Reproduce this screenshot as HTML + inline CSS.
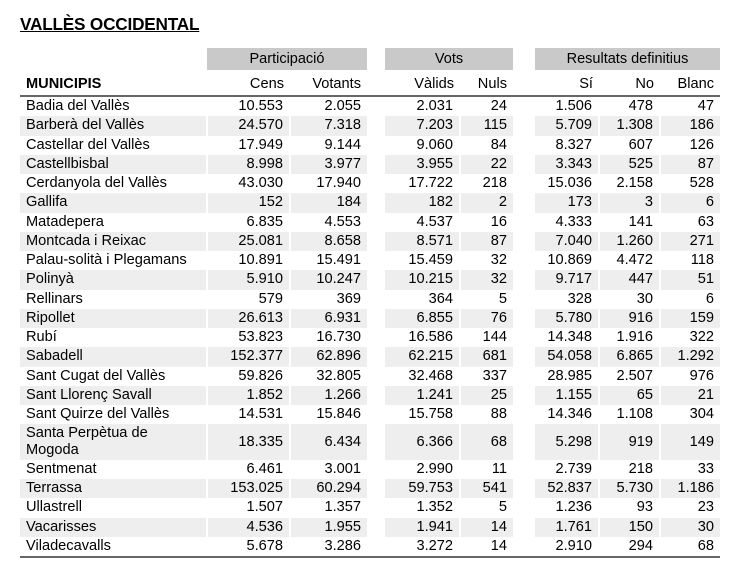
<!DOCTYPE html>
<html><head><meta charset="utf-8"><style>
body{margin:0;width:755px;height:583px;background:#fff;font-family:"Liberation Sans",Arial,sans-serif;color:#000;position:relative;overflow:hidden}
.t{position:absolute;left:20px;top:14px;font-weight:bold;font-size:17.2px;text-decoration:underline;letter-spacing:-0.2px}
.g{position:absolute;top:48px;height:22px;background:#c9c9c9;font-size:14.5px;text-align:center;line-height:23px}
table{position:absolute;left:20px;top:72px;border-collapse:collapse;table-layout:fixed;font-size:14.6px}
td{padding:0 6px 0 0;text-align:right;height:19.25px;line-height:17px;white-space:nowrap;overflow:visible}
td.n{text-align:left;padding-left:6px;white-space:nowrap}
td.b{border-right:2px solid #fff}
tr.s td{background:#eeeeee}
tr.s td.x{background:#fff}
tr.h td{height:21px;vertical-align:bottom;padding-bottom:2px;border-bottom:2px solid #666}
tr.l td{border-bottom:2px solid #666}
tr.d td{height:35.5px}
</style></head><body>
<div class="t">VALLÈS OCCIDENTAL</div>
<div class="g" style="left:207px;width:160px">Participació</div>
<div class="g" style="left:385px;width:128px">Vots</div>
<div class="g" style="left:535px;width:185px">Resultats definitius</div>
<table>
<colgroup><col style="width:187px"><col style="width:83px"><col style="width:77px"><col style="width:18px"><col style="width:75px"><col style="width:53px"><col style="width:22px"><col style="width:64px"><col style="width:61px"><col style="width:60px"></colgroup>
<tr class="h"><td class="n" style="font-weight:bold">MUNICIPIS</td><td>Cens</td><td>Votants</td><td class="x"></td><td>Vàlids</td><td>Nuls</td><td class="x"></td><td>Sí</td><td>No</td><td>Blanc</td></tr>
<tr><td class="n b">Badia del Vallès</td><td class="b">10.553</td><td>2.055</td><td class="x"></td><td class="b">2.031</td><td>24</td><td class="x"></td><td class="b">1.506</td><td class="b">478</td><td>47</td></tr>
<tr class="s"><td class="n b">Barberà del Vallès</td><td class="b">24.570</td><td>7.318</td><td class="x"></td><td class="b">7.203</td><td>115</td><td class="x"></td><td class="b">5.709</td><td class="b">1.308</td><td>186</td></tr>
<tr><td class="n b">Castellar del Vallès</td><td class="b">17.949</td><td>9.144</td><td class="x"></td><td class="b">9.060</td><td>84</td><td class="x"></td><td class="b">8.327</td><td class="b">607</td><td>126</td></tr>
<tr class="s"><td class="n b">Castellbisbal</td><td class="b">8.998</td><td>3.977</td><td class="x"></td><td class="b">3.955</td><td>22</td><td class="x"></td><td class="b">3.343</td><td class="b">525</td><td>87</td></tr>
<tr><td class="n b">Cerdanyola del Vallès</td><td class="b">43.030</td><td>17.940</td><td class="x"></td><td class="b">17.722</td><td>218</td><td class="x"></td><td class="b">15.036</td><td class="b">2.158</td><td>528</td></tr>
<tr class="s"><td class="n b">Gallifa</td><td class="b">152</td><td>184</td><td class="x"></td><td class="b">182</td><td>2</td><td class="x"></td><td class="b">173</td><td class="b">3</td><td>6</td></tr>
<tr><td class="n b">Matadepera</td><td class="b">6.835</td><td>4.553</td><td class="x"></td><td class="b">4.537</td><td>16</td><td class="x"></td><td class="b">4.333</td><td class="b">141</td><td>63</td></tr>
<tr class="s"><td class="n b">Montcada i Reixac</td><td class="b">25.081</td><td>8.658</td><td class="x"></td><td class="b">8.571</td><td>87</td><td class="x"></td><td class="b">7.040</td><td class="b">1.260</td><td>271</td></tr>
<tr><td class="n b">Palau-solità i Plegamans</td><td class="b">10.891</td><td>15.491</td><td class="x"></td><td class="b">15.459</td><td>32</td><td class="x"></td><td class="b">10.869</td><td class="b">4.472</td><td>118</td></tr>
<tr class="s"><td class="n b">Polinyà</td><td class="b">5.910</td><td>10.247</td><td class="x"></td><td class="b">10.215</td><td>32</td><td class="x"></td><td class="b">9.717</td><td class="b">447</td><td>51</td></tr>
<tr><td class="n b">Rellinars</td><td class="b">579</td><td>369</td><td class="x"></td><td class="b">364</td><td>5</td><td class="x"></td><td class="b">328</td><td class="b">30</td><td>6</td></tr>
<tr class="s"><td class="n b">Ripollet</td><td class="b">26.613</td><td>6.931</td><td class="x"></td><td class="b">6.855</td><td>76</td><td class="x"></td><td class="b">5.780</td><td class="b">916</td><td>159</td></tr>
<tr><td class="n b">Rubí</td><td class="b">53.823</td><td>16.730</td><td class="x"></td><td class="b">16.586</td><td>144</td><td class="x"></td><td class="b">14.348</td><td class="b">1.916</td><td>322</td></tr>
<tr class="s"><td class="n b">Sabadell</td><td class="b">152.377</td><td>62.896</td><td class="x"></td><td class="b">62.215</td><td>681</td><td class="x"></td><td class="b">54.058</td><td class="b">6.865</td><td>1.292</td></tr>
<tr><td class="n b">Sant Cugat del Vallès</td><td class="b">59.826</td><td>32.805</td><td class="x"></td><td class="b">32.468</td><td>337</td><td class="x"></td><td class="b">28.985</td><td class="b">2.507</td><td>976</td></tr>
<tr class="s"><td class="n b">Sant Llorenç Savall</td><td class="b">1.852</td><td>1.266</td><td class="x"></td><td class="b">1.241</td><td>25</td><td class="x"></td><td class="b">1.155</td><td class="b">65</td><td>21</td></tr>
<tr><td class="n b">Sant Quirze del Vallès</td><td class="b">14.531</td><td>15.846</td><td class="x"></td><td class="b">15.758</td><td>88</td><td class="x"></td><td class="b">14.346</td><td class="b">1.108</td><td>304</td></tr>
<tr class="s d"><td class="n b">Santa Perpètua de<br>Mogoda</td><td class="b">18.335</td><td>6.434</td><td class="x"></td><td class="b">6.366</td><td>68</td><td class="x"></td><td class="b">5.298</td><td class="b">919</td><td>149</td></tr>
<tr><td class="n b">Sentmenat</td><td class="b">6.461</td><td>3.001</td><td class="x"></td><td class="b">2.990</td><td>11</td><td class="x"></td><td class="b">2.739</td><td class="b">218</td><td>33</td></tr>
<tr class="s"><td class="n b">Terrassa</td><td class="b">153.025</td><td>60.294</td><td class="x"></td><td class="b">59.753</td><td>541</td><td class="x"></td><td class="b">52.837</td><td class="b">5.730</td><td>1.186</td></tr>
<tr><td class="n b">Ullastrell</td><td class="b">1.507</td><td>1.357</td><td class="x"></td><td class="b">1.352</td><td>5</td><td class="x"></td><td class="b">1.236</td><td class="b">93</td><td>23</td></tr>
<tr class="s"><td class="n b">Vacarisses</td><td class="b">4.536</td><td>1.955</td><td class="x"></td><td class="b">1.941</td><td>14</td><td class="x"></td><td class="b">1.761</td><td class="b">150</td><td>30</td></tr>
<tr class="l"><td class="n b">Viladecavalls</td><td class="b">5.678</td><td>3.286</td><td class="x"></td><td class="b">3.272</td><td>14</td><td class="x"></td><td class="b">2.910</td><td class="b">294</td><td>68</td></tr>
</table>
</body></html>
